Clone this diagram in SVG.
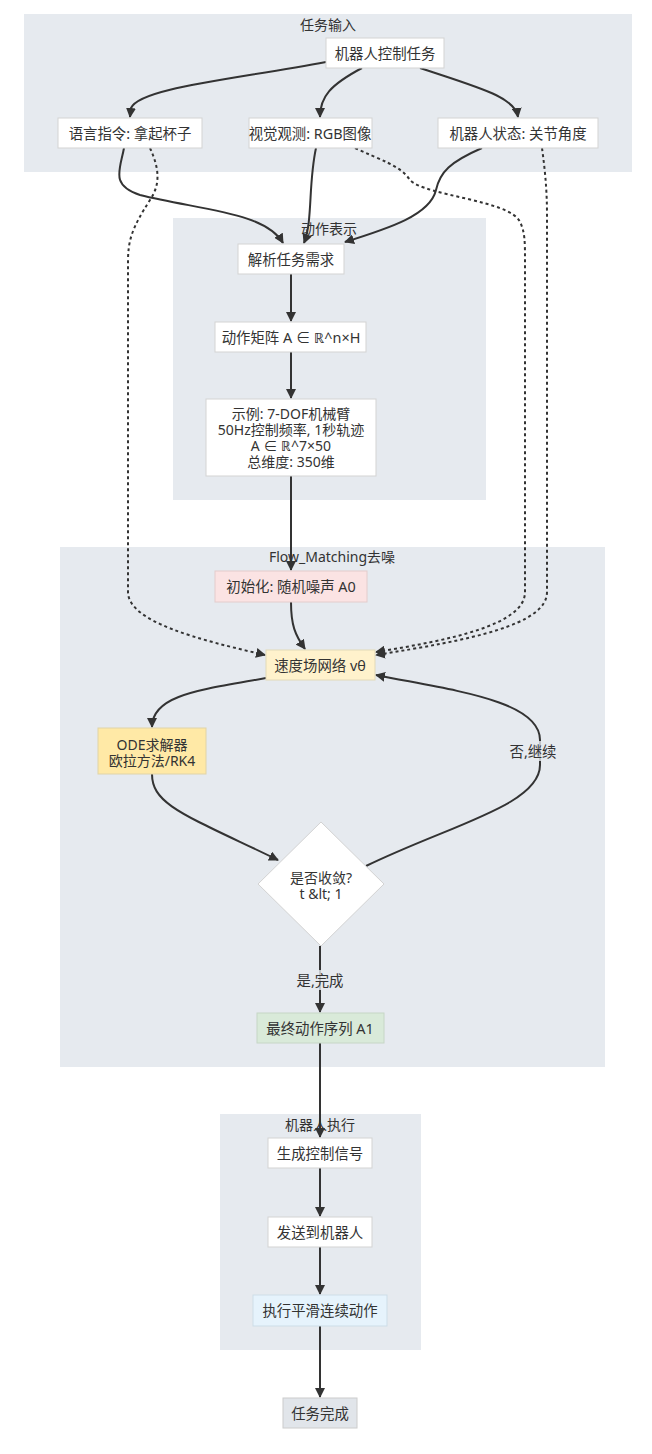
<svg xmlns="http://www.w3.org/2000/svg" width="652" height="1454" viewBox="0 0 652 1454">
<defs>
<style>
.cl{fill:#e6eaef;stroke:none}
.ct{font-family:"Noto Sans","Noto Sans CJK SC",sans-serif;font-size:14px;fill:#333;text-anchor:middle}
.n{fill:#ffffff;stroke:#d3d3d3;stroke-width:1}
.t{font-family:"Noto Sans","Noto Sans CJK SC",sans-serif;font-size:14.4px;fill:#333;text-anchor:middle;dominant-baseline:central}
.m{font-size:14px}
.e{fill:none;stroke:#333;stroke-width:2}
.d{fill:none;stroke:#333;stroke-width:2;stroke-dasharray:3 3}
.lb{fill:#e6eaef;opacity:0.8}
</style>
<marker id="ah" viewBox="0 0 10 10" refX="9" refY="5" markerWidth="10" markerHeight="10" markerUnits="userSpaceOnUse" orient="auto">
<path d="M0,0 L10,5 L0,10 z" fill="#333"/>
</marker>
</defs>
<rect width="652" height="1454" fill="#ffffff"/>
<g id="clusters">
<rect class="cl" x="24" y="14" width="608" height="158"/>
<text class="ct" x="328" y="30">任务输入</text>
<rect class="cl" x="173" y="218" width="313" height="282"/>
<text class="ct" x="329" y="234">动作表示</text>
<rect class="cl" x="60" y="547" width="545" height="520"/>
<text class="ct" x="332" y="562">Flow_Matching去噪</text>
<rect class="cl" x="220" y="1114" width="201" height="236"/>
<text class="ct" x="320" y="1130">机器人执行</text>
</g>
<g id="connectors">
<path class="e" marker-end="url(#ah)" d="M326,62 C230,80 140,88 131,108 L130,117"/>
<path class="e" marker-end="url(#ah)" d="M362,68 C330,85 320,97 320,117"/>
<path class="e" marker-end="url(#ah)" d="M420,68 C480,88 515,97 518,117"/>
<path class="e" marker-end="url(#ah)" d="M124,148 C120,170 110,185 140,195 C200,210 265,212 283,243"/>
<path class="e" marker-end="url(#ah)" d="M316,148 C308,185 313,220 304,243"/>
<path class="e" marker-end="url(#ah)" d="M482,148 C450,162 440,172 436,190 C430,215 390,228 345,242"/>
<path class="d" marker-end="url(#ah)" d="M150,148 C160,170 160,185 150,200 C132,228 128,240 128,262 L128,592 C128,622 200,640 265,655"/>
<path class="d" marker-end="url(#ah)" d="M355,148 C380,160 400,165 410,180 C425,196 510,200 520,222 C525,232 525,242 525,262 L525,592 C525,625 450,640 376,652"/>
<path class="d" marker-end="url(#ah)" d="M542,148 C545,170 547,190 547,215 L547,592 C547,625 470,640 376,655"/>
<path class="e" marker-end="url(#ah)" d="M291,274 L291,321"/>
<path class="e" marker-end="url(#ah)" d="M291,352 L291,398"/>
<path class="e" marker-end="url(#ah)" d="M291,476 L291,570"/>
<path class="e" marker-end="url(#ah)" d="M291,602 C291,625 295,635 305,649"/>
<path class="e" marker-end="url(#ah)" d="M266,678 C200,690 152,695 152,727"/>
<path class="e" marker-end="url(#ah)" d="M152,774 C152,805 185,815 278,860"/>
<path class="e" marker-end="url(#ah)" d="M366,866 C450,825 540,805 540,765 L540,740 C540,700 450,690 376,675"/>
<path class="e" marker-end="url(#ah)" d="M320,946 L320,1012"/>
<path class="e" marker-end="url(#ah)" d="M320,1043 L320,1137"/>
<path class="e" marker-end="url(#ah)" d="M320,1168 L320,1216"/>
<path class="e" marker-end="url(#ah)" d="M320,1247 L320,1294"/>
<path class="e" marker-end="url(#ah)" d="M320,1326 L320,1397"/>
<rect class="lb" x="507" y="741" width="52" height="20"/>
<text class="t" x="533" y="751">否,继续</text>
<rect class="lb" x="294" y="970" width="52" height="20"/>
<text class="t" x="320" y="980">是,完成</text>
</g>
<g id="n_task"><rect class="n" x="326" y="38" width="118" height="30"/><text class="t" x="385" y="53">机器人控制任务</text></g>
<g id="n_lang"><rect class="n" x="58" y="118" width="144" height="30"/><text class="t" x="130" y="133">语言指令: 拿起杯子</text></g>
<g id="n_vis"><rect class="n" x="249" y="118" width="123" height="30"/><text class="t" x="310" y="133">视觉观测: RGB图像</text></g>
<g id="n_state"><rect class="n" x="438" y="118" width="160" height="30"/><text class="t" x="518" y="133">机器人状态: 关节角度</text></g>
<g id="n_parse"><rect class="n" x="238" y="244" width="106" height="30"/><text class="t" x="291" y="259">解析任务需求</text></g>
<g id="n_matrix"><rect class="n" x="215" y="322" width="151" height="30"/><text class="t" x="291" y="337">动作矩阵 A ∈ ℝ^n×H</text></g>
<g id="n_example"><rect class="n" x="206" y="399" width="170" height="77"/>
<text class="t m" x="291" y="413">示例: 7-DOF机械臂</text>
<text class="t m" x="291" y="429">50Hz控制频率, 1秒轨迹</text>
<text class="t m" x="291" y="445">A ∈ ℝ^7×50</text>
<text class="t m" x="291" y="461">总维度: 350维</text></g>
<g id="n_init"><rect x="215" y="571" width="152" height="31" fill="#fbe3e3" stroke="#e3cccc"/><text class="t" x="291" y="586">初始化: 随机噪声 A0</text></g>
<g id="n_vel"><rect x="266" y="650" width="109" height="30" fill="#fff2cc" stroke="#e2d9b8"/><text class="t" x="320" y="665">速度场网络 vθ</text></g>
<g id="n_ode"><rect x="98" y="728" width="108" height="46" fill="#ffe9a6" stroke="#e0d3a8"/>
<text class="t m" x="152" y="744">ODE求解器</text>
<text class="t m" x="152" y="760">欧拉方法/RK4</text></g>
<g id="n_conv"><polygon points="321,822 384,884 321,946 258,884" fill="#ffffff" stroke="#d3d3d3"/>
<text class="t m" x="321" y="877">是否收敛?</text>
<text class="t m" x="321" y="893">t &amp;lt; 1</text></g>
<g id="n_final"><rect x="257" y="1013" width="127" height="30" fill="#d9ead9" stroke="#c6d6c6"/><text class="t" x="320" y="1028">最终动作序列 A1</text></g>
<g id="n_gen"><rect class="n" x="268" y="1138" width="104" height="30"/><text class="t" x="320" y="1153">生成控制信号</text></g>
<g id="n_send"><rect class="n" x="268" y="1217" width="104" height="30"/><text class="t" x="320" y="1232">发送到机器人</text></g>
<g id="n_exec"><rect x="253" y="1295" width="134" height="31" fill="#e6f3fc" stroke="#cddde8"/><text class="t" x="320" y="1310">执行平滑连续动作</text></g>
<g id="n_done"><rect x="283" y="1398" width="74" height="30" fill="#e1e5ea" stroke="#cccccc"/><text class="t" x="320" y="1413">任务完成</text></g>
</svg>
